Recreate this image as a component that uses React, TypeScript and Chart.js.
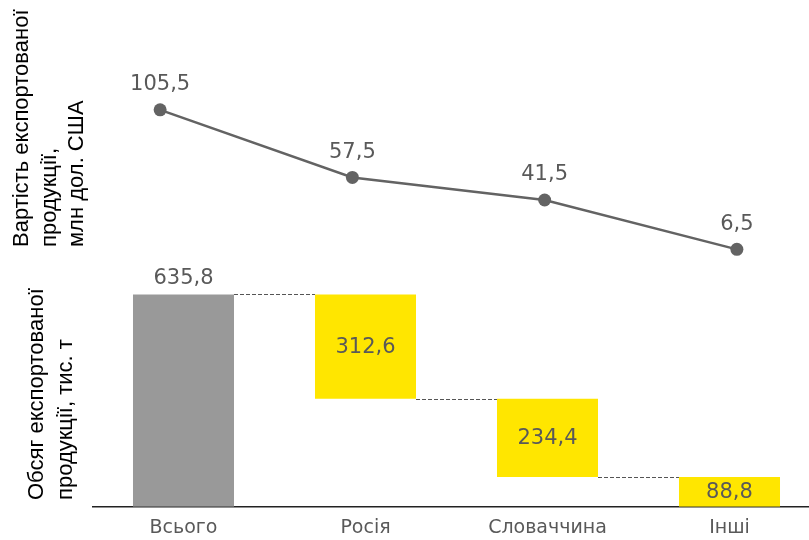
import React, { useEffect, useRef } from "react";
import { Chart, registerables } from "chart.js";
Chart.register(...registerables);

const categories = ["Всього", "Росія", "Словаччина", "Інші"];
const exportValue = [105.5, 57.5, 41.5, 6.5];
const totalVolume = 635.8;
const volumeParts = [312.6, 234.4, 88.8];
const valueTitle = ["Вартість експортованої", "продукції,", "млн дол. США"];
const volumeTitle = ["Обсяг експортованої", "продукції, тис. т"];

const fmt = (v: number) => v.toFixed(1).replace(".", ",");
const LABEL_COLOR = "#595959";
const LABEL_FONT = "21px 'DejaVu Sans'";
const TITLE_FONT = "22px 'Liberation Sans'";

function titlePlugin(id: string, lines: string[], xs: number[], yStart: number) {
  return {
    id,
    afterDraw(chart: any) {
      const ctx = chart.ctx;
      ctx.save();
      ctx.font = TITLE_FONT;
      ctx.fillStyle = "#000";
      ctx.textAlign = "left";
      ctx.textBaseline = "middle";
      lines.forEach((line, i) => {
        ctx.save();
        ctx.translate(xs[i], yStart);
        ctx.rotate(-Math.PI / 2);
        ctx.fillText(line, 0, 0);
        ctx.restore();
      });
      ctx.restore();
    },
  };
}

export default function App() {
  const topRef = useRef<HTMLCanvasElement>(null);
  const botRef = useRef<HTMLCanvasElement>(null);

  useEffect(() => {
    const lineLabels = {
      id: "lineLabels",
      afterDatasetsDraw(chart: any) {
        const ctx = chart.ctx;
        const meta = chart.getDatasetMeta(0);
        ctx.save();
        ctx.font = LABEL_FONT;
        ctx.fillStyle = LABEL_COLOR;
        ctx.textAlign = "center";
        ctx.textBaseline = "middle";
        meta.data.forEach((pt: any, i: number) => {
          ctx.fillText(fmt(exportValue[i]), pt.x, pt.y - 25);
        });
        ctx.restore();
      },
    };

    const top = new Chart(topRef.current!, {
      type: "line",
      data: {
        labels: categories,
        datasets: [
          {
            data: exportValue,
            borderColor: "#636363",
            borderWidth: 2.5,
            pointRadius: 6.5,
            pointHoverRadius: 6.5,
            pointBackgroundColor: "#636363",
            pointBorderWidth: 0,
            tension: 0,
          },
        ],
      },
      options: {
        responsive: false,
        animation: false,
        layout: { padding: { left: 64, right: 67, top: 33, bottom: 6 } },
        scales: {
          x: { display: false, offset: true },
          y: { display: false, min: 0, max: 160 },
        },
        plugins: { legend: { display: false }, tooltip: { enabled: false } },
      },
      plugins: [lineLabels, titlePlugin("t1", valueTitle, [22, 50, 77], 247)],
    });

    const volumeDisplay = [totalVolume, ...volumeParts];
    const ranges: number[][] = [[0, totalVolume]];
    let running = totalVolume;
    volumeParts.forEach((p) => {
      ranges.push([running - p, running]);
      running -= p;
    });

    const barExtras = {
      id: "barExtras",
      afterDatasetsDraw(chart: any) {
        const ctx = chart.ctx;
        const meta = chart.getDatasetMeta(0);
        const bars = meta.data;
        ctx.save();
        ctx.strokeStyle = "#555";
        ctx.lineWidth = 1;
        ctx.setLineDash([4, 2]);
        for (let i = 0; i < bars.length - 1; i++) {
          const a = bars[i];
          const b = bars[i + 1];
          const yl = Math.round(Math.min(b.y, b.base)) + 0.5;
          ctx.beginPath();
          ctx.moveTo(a.x + a.width / 2, yl);
          ctx.lineTo(b.x - b.width / 2, yl);
          ctx.stroke();
        }
        ctx.setLineDash([]);
        ctx.font = LABEL_FONT;
        ctx.fillStyle = LABEL_COLOR;
        ctx.textAlign = "center";
        ctx.textBaseline = "middle";
        bars.forEach((b: any, i: number) => {
          const t = Math.min(b.y, b.base);
          const btm = Math.max(b.y, b.base);
          const y = i === 0 ? t - 16 : (t + btm) / 2 + 1;
          ctx.fillText(fmt(volumeDisplay[i]), b.x, y);
        });
        ctx.restore();
      },
    };

    const bot = new Chart(botRef.current!, {
      type: "bar",
      data: {
        labels: categories,
        datasets: [
          {
            data: ranges as any,
            backgroundColor: ["#999999", "#FFE600", "#FFE600", "#FFE600"],
            barPercentage: 0.555,
            categoryPercentage: 1,
            borderWidth: 0,
          },
        ],
      },
      options: {
        responsive: false,
        animation: false,
        layout: { padding: { left: 92.5, right: 79.5, top: 8, bottom: 1.5 } },
        scales: {
          x: {
            grid: { display: false, drawTicks: false },
            border: { display: true, color: "#222", width: 1.5 },
            ticks: {
              color: LABEL_COLOR,
              font: { family: "'DejaVu Sans'", size: 19 },
              padding: 10,
            },
          },
          y: { display: false, min: 0, max: 700 },
        },
        plugins: { legend: { display: false }, tooltip: { enabled: false } },
      },
      plugins: [barExtras, titlePlugin("t2", volumeTitle, [37, 66], 235)],
    });

    return () => {
      top.destroy();
      bot.destroy();
    };
  }, []);

  return (
    <div
      style={{
        position: "fixed",
        left: 0,
        top: 0,
        width: 809,
        height: 540,
        overflow: "hidden",
        background: "#fff",
      }}
    >
      <canvas
        ref={topRef}
        width={900}
        height={265}
        style={{ position: "absolute", left: 0, top: 0, display: "block" }}
      />
      <canvas
        ref={botRef}
        width={900}
        height={286}
        style={{ position: "absolute", left: 0, top: 265, display: "block" }}
      />
    </div>
  );
}
